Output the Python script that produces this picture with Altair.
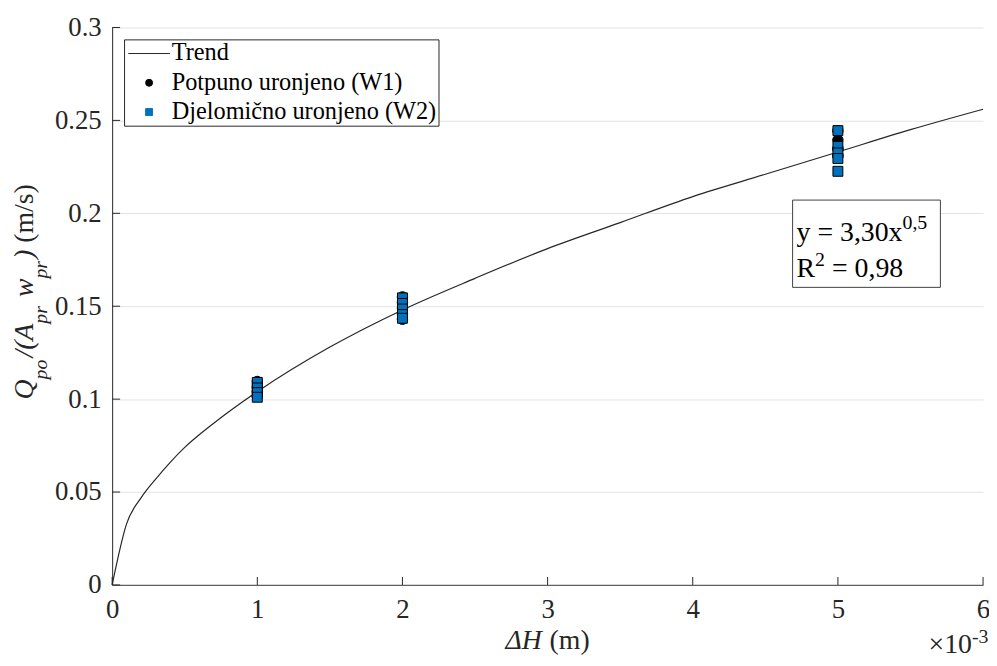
import altair as alt
import pandas as pd

# ---------------- data ----------------
T = "Trend"
W1 = "Potpuno uronjeno (W1)"
W2 = "Djelomično uronjeno (W2)"

trend_x = [0, 0.1, 0.2, 0.3, 0.4, 0.5, 0.7, 1.0, 1.5, 2.0, 2.5, 3.0, 3.5, 4.0, 4.5, 5.0, 5.5, 6.0]
trend_y = [0, 0.033, 0.047, 0.057, 0.066, 0.074, 0.087, 0.104, 0.128, 0.148, 0.165, 0.181,
           0.195, 0.209, 0.221, 0.233, 0.245, 0.256]

w1_x = [1, 1, 1, 1, 2, 2, 2, 2, 2, 5, 5, 5, 5]
w1_y = [0.1095, 0.1065, 0.104, 0.1015, 0.155, 0.152, 0.149, 0.146, 0.143,
        0.2445, 0.2395, 0.235, 0.231]

w2_x = [1, 1, 1, 1, 2, 2, 2, 2, 2, 5, 5, 5, 5, 5]
w2_y = [0.109, 0.106, 0.1035, 0.101, 0.1545, 0.1515, 0.1485, 0.1455, 0.1435,
        0.2445, 0.236, 0.2325, 0.2295, 0.2226]

x_ticks = [0, 1, 2, 3, 4, 5, 6]
y_ticks = [0, 0.05, 0.1, 0.15, 0.2, 0.25, 0.3]

# ---------------- style ----------------
W, H = 878, 562
FONT = "Liberation Serif"
AX = "#262626"
BLUE = "#0072BD"
TICK_FS = 27
TITLE_FS = 28
SUB_FS = 20

REG = {" ": .25, "(": .333, ")": .333, "m": .778, "/": .278, "s": .389, ",": .25,
       "=": .564, "x": .5, "y": .5, "R": .667, "×": .564, "−": .564, "-": .333}
ITA = {"Q": .722, "p": .5, "o": .5, "/": .278, "(": .333, "A": .611, "r": .389,
       "w": .667, ")": .333, " ": .25, "Δ": .612, "H": .722}


def tw(s, size, italic=False):
    tab = ITA if italic else REG
    return sum(tab.get(c, .5) for c in s) * size


def txt(s, x, y, size, italic=False, angle=0, color="black"):
    # leading spaces are collapsed by SVG, so turn them into an offset
    lead = len(s) - len(s.lstrip(" "))
    shift = lead * 0.25 * size
    s = s.strip(" ")
    if angle == 270:
        y = y - shift
    else:
        x = x + shift
    return alt.Chart(pd.DataFrame({"t": [s]})).mark_text(
        align="left", baseline="alphabetic", font=FONT, fontSize=size,
        fontStyle="italic" if italic else "normal", angle=angle, color=color
    ).encode(x=alt.value(x), y=alt.value(y), text="t:N")


trend_df = pd.DataFrame({"x": trend_x, "y": trend_y, "s": T})
w1_df = pd.DataFrame({"x": w1_x, "y": w1_y, "s": W1})
w2_df = pd.DataFrame({"x": w2_x, "y": w2_y, "s": W2})
xt_df = pd.DataFrame({"x": x_ticks})
yt_df = pd.DataFrame({"y": y_ticks})

xscale = alt.Scale(domain=[0, 6], nice=False, zero=False)
yscale = alt.Scale(domain=[0, 0.3], nice=False, zero=False)
cscale = alt.Scale(domain=[T, W1, W2], range=[AX, "#000000", BLUE])

ax_x = alt.Axis(title=None, values=x_ticks, format="~g", grid=False, ticks=False,
                domainColor="#606060", domainWidth=1.3, labelFont=FONT, labelFontSize=TICK_FS,
                labelColor=AX, labelPadding=12, labelFlush=False, labelOverlap=False)
ax_y = alt.Axis(title=None, values=y_ticks, format="~g", grid=True, gridColor="#e3e3e3",
                gridWidth=1, ticks=False, domainColor=AX, domainWidth=1, labelFont=FONT,
                labelFontSize=TICK_FS, labelColor=AX, labelPadding=11, labelFlush=False,
                labelOverlap=False)

sym_shape = f"datum.value === '{T}' ? 'M-6,0H6' : (datum.value === '{W1}' ? 'circle' : 'square')"
sym_fill = f"datum.value === '{T}' ? 'transparent' : (datum.value === '{W1}' ? '#000000' : '{BLUE}')"
sym_stroke = f"datum.value === '{T}' ? '{AX}' : (datum.value === '{W1}' ? '#000000' : '{BLUE}')"

leg = alt.Legend(
    title=None, orient="none", legendX=12, legendY=12, fillColor="white",
    strokeColor=AX, padding=2, labelFont=FONT, labelFontSize=24.5, labelColor="black",
    labelLimit=500, symbolSize=49, symbolOffset=11, labelOffset=10.5, rowPadding=4.5,
    symbolType=alt.ExprRef(expr=sym_shape),
    symbolFillColor=alt.ExprRef(expr=sym_fill),
    symbolStrokeColor=alt.ExprRef(expr=sym_stroke),
    symbolStrokeWidth=1, symbolOpacity=1,
)

X = alt.X("x:Q", scale=xscale, axis=ax_x)
Y = alt.Y("y:Q", scale=yscale, axis=ax_y)
C = alt.Color("s:N", scale=cscale, legend=leg)

trend = alt.Chart(trend_df).mark_line(strokeWidth=1.2, interpolate="monotone").encode(x=X, y=Y, color=C)
circles = alt.Chart(w1_df).mark_point(shape="circle", filled=True, size=110, stroke="#000000",
                                      strokeWidth=1, opacity=1).encode(x=X, y=Y, color=C)
squares = alt.Chart(w2_df).mark_point(shape="square", filled=True, size=100, stroke="#000000",
                                      strokeWidth=1, opacity=1).encode(x=X, y=Y, color=C)

xticks = alt.Chart(xt_df).mark_rule(color=AX, strokeWidth=1).encode(
    x=X, y=alt.value(H), y2=alt.value(H - 8))
yticks = alt.Chart(yt_df).mark_rule(color=AX, strokeWidth=1).encode(
    y=Y, x=alt.value(0), x2=alt.value(8))

# annotation box
box = alt.Chart(pd.DataFrame({"a": [0]})).mark_rect(
    fill="white", stroke="#404040", strokeWidth=1
).encode(x=alt.value(686), x2=alt.value(835), y=alt.value(174), y2=alt.value(262))

ann = []
ex = 690
s1 = "y = 3,30x"
ann.append(txt(s1, ex, 215, 28))
ann.append(txt("0,5", ex + tw(s1, 28), 203, 20))
ann.append(txt("R", ex, 252, 28))
ann.append(txt("2", ex + tw("R", 28), 240, 20))
ann.append(txt(" = 0,98", ex + tw("R", 28) + tw("2", 20), 252, 28))

# y-axis title (rotated, with subscripts)
pieces = [("Q", False, True), ("po", True, True), ("/(A", False, True), ("pr", True, True),
          (" w", False, True), ("pr", True, True), (")", False, True), (" (m/s)", False, False)]
ytitle = []
ypos = 375
MAIN_X, SUB_X = -80, -66
for s, sub, ital in pieces:
    size = SUB_FS if sub else TITLE_FS
    ytitle.append(txt(s, SUB_X if sub else MAIN_X, ypos, size, italic=ital, angle=270, color=AX))
    ypos -= tw(s, size, ital) + (2 if sub else 0)

# x-axis title
w_dh = tw("ΔH", TITLE_FS, True)
w_m = tw(" (m)", TITLE_FS, False)
x0 = W / 2 - (w_dh + w_m) / 2
xtitle = [txt("ΔH", x0, 627, TITLE_FS, italic=True, color=AX),
          txt(" (m)", x0 + w_dh, 627, TITLE_FS, color=AX)]

# exponent label
expo = [txt("×10", 823, 631, 28, color=AX),
        txt("-3", 823 + tw("×10", 28), 621, 20, color=AX)]

chart = alt.layer(
    trend, circles, squares, xticks, yticks, box, *ann, *ytitle, *xtitle, *expo
).properties(
    width=W, height=H,
    autosize=alt.AutoSizeParams(type="none"),
    padding={"left": 105, "top": 17, "right": 6, "bottom": 71},
).configure_view(strokeWidth=0)

chart.save("out.html", embed_options={"renderer": "svg", "actions": False})
